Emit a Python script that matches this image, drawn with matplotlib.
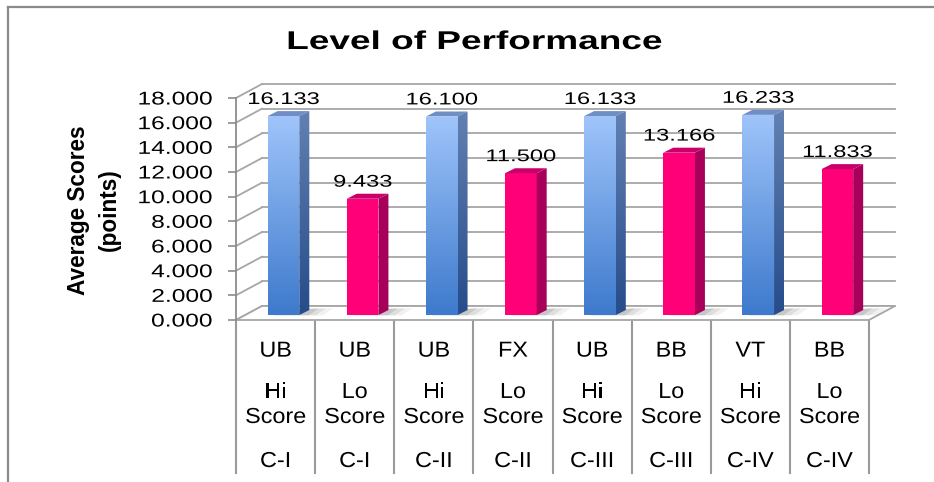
import numpy as np
import matplotlib
matplotlib.use("Agg")
import matplotlib.pyplot as plt
from matplotlib.patches import Polygon
from matplotlib.patheffects import AbstractPathEffect
from matplotlib.transforms import Affine2D
from matplotlib.ticker import FormatStrFormatter
from matplotlib.lines import Line2D
from matplotlib.path import Path

# ---------------- data ----------------
events = ["UB", "UB", "UB", "FX", "UB", "BB", "VT", "BB"]
levels = ["Hi", "Lo", "Hi", "Lo", "Hi", "Lo", "Hi", "Lo"]
groups = ["C-I", "C-I", "C-II", "C-II", "C-III", "C-III", "C-IV", "C-IV"]
scores = [16.133, 9.433, 16.100, 11.500, 16.133, 13.166, 16.233, 11.833]
yticks = [0, 2, 4, 6, 8, 10, 12, 14, 16, 18]
title = "Level of Performance"
ylabel = "Average Scores\n(points)"

W, H = 934, 482
FONT = "Liberation Sans"


class HStretch(AbstractPathEffect):
    """Stretch text glyphs horizontally (the reference text is widened)."""

    def __init__(self, sx, anchor="center"):
        super().__init__((0.0, 0.0))
        self.sx = sx
        self.anchor = anchor

    def draw_path(self, renderer, gc, tpath, affine, rgbFace=None):
        v = tpath.vertices
        if tpath.codes is not None:
            v = v[np.asarray(tpath.codes) != Path.CLOSEPOLY]
        if len(v) == 0:
            renderer.draw_path(gc, tpath, affine, rgbFace)
            return
        d = affine.transform(v)
        if self.anchor == "right":
            x0 = d[:, 0].max()
        elif self.anchor == "left":
            x0 = d[:, 0].min()
        else:
            x0 = 0.5 * (d[:, 0].min() + d[:, 0].max())
        aff = affine + Affine2D().translate(-x0, 0).scale(self.sx, 1.0).translate(x0, 0)
        renderer.draw_path(gc, tpath, aff, rgbFace)


fig = plt.figure(figsize=(W / 100, H / 100), dpi=100)
fig.patch.set_facecolor("white")

# front plane of the 3-D plot
ax = fig.add_axes([236 / W, (H - 320) / H, 633 / W, 222 / H])
ax.set_facecolor("none")
n = len(scores)

# depth offsets (data units)
DX, DY = 26 / 79.125, 14 / 12.333        # back wall
BX, BY = 0.10, 0.40                       # bar front plane
DDX, DDY = 10 / 79.125, 5 / 12.333        # bar depth
BW = 0.40                                 # bar width

grid_col = "#a6a6a6"

# floor
floor = Polygon([(0, 0), (n, 0), (n + DX, DY), (DX, DY)], closed=True,
                facecolor="white", edgecolor=grid_col, lw=1.3, zorder=1.2,
                clip_on=False)
ax.add_patch(floor)

# back-wall gridlines and left-wall diagonals
for t in yticks:
    ax.add_line(Line2D([DX, n + DX], [t + DY, t + DY], color=grid_col, lw=1.3,
                       zorder=1, clip_on=False))
    ax.add_line(Line2D([0, DX], [t, t + DY], color=grid_col, lw=1.3,
                       zorder=1, clip_on=False))


def grad(c_bottom, c_top, steps=64):
    c_bottom = np.array(c_bottom) / 255.0
    c_top = np.array(c_top) / 255.0
    f = np.linspace(0, 1, steps)[:, None]
    arr = c_bottom * (1 - f) + c_top * f
    return arr[:, None, :]


blue_front = ((62, 122, 205), (158, 196, 250))
blue_side = ((38, 76, 138), (98, 128, 178))
blue_top = "#6f8fc4"
pink_front = "#ff0079"
pink_side = "#a8005a"
pink_top = "#c80068"

for i, v in enumerate(scores):
    x0 = i + 0.5 + BX - BW / 2
    x1 = x0 + BW
    y0 = BY
    y1 = v + BY
    # soft shadow on floor
    for k, a in enumerate([0.07, 0.10, 0.14]):
        ext = 0.30 - 0.09 * k
        sh = Polygon([(x0 + 0.08, y0 - 0.02), (x1 + ext, y0 - 0.02),
                      (x1 + DDX + ext, y0 + DDY + 0.15), (x0 + DDX, y0 + DDY)],
                     closed=True, facecolor="#404040", edgecolor="none",
                     alpha=a, zorder=2, clip_on=False)
        ax.add_patch(sh)
    front = Polygon([(x0, y0), (x1, y0), (x1, y1), (x0, y1)], closed=True,
                    zorder=3, clip_on=False)
    side = Polygon([(x1, y0), (x1 + DDX, y0 + DDY), (x1 + DDX, y1 + DDY), (x1, y1)],
                   closed=True, zorder=3, clip_on=False)
    top = Polygon([(x0, y1), (x1, y1), (x1 + DDX, y1 + DDY), (x0 + DDX, y1 + DDY)],
                  closed=True, zorder=3, clip_on=False)
    if levels[i] == "Hi":
        front.set_facecolor("none"); front.set_edgecolor("none")
        side.set_facecolor("none"); side.set_edgecolor("none")
        top.set_facecolor(blue_top); top.set_edgecolor("none")
        ax.add_patch(front); ax.add_patch(side); ax.add_patch(top)
        im = ax.imshow(grad(*blue_front), extent=[x0, x1, y0, y1], origin="lower",
                       aspect="auto", zorder=3, interpolation="bilinear")
        im.set_clip_path(front)
        im2 = ax.imshow(grad(*blue_side), extent=[x1, x1 + DDX, y0, y1 + DDY],
                        origin="lower", aspect="auto", zorder=3,
                        interpolation="bilinear")
        im2.set_clip_path(side)
    else:
        front.set_facecolor(pink_front); front.set_edgecolor("none")
        side.set_facecolor(pink_side); side.set_edgecolor("none")
        top.set_facecolor(pink_top); top.set_edgecolor("none")
        ax.add_patch(front); ax.add_patch(side); ax.add_patch(top)
    # data label
    ax.text(i + 0.5 + BX, y1 + 0.98, f"{v:.3f}", ha="center", va="baseline",
            fontsize=12.2, family=FONT, color="black", zorder=5,
            path_effects=[HStretch(1.40)])

# category table below the floor
for k in range(n + 1):
    ax.add_line(Line2D([k, k], [0, -12.4], color="#9a9a9a", lw=1.5,
                       clip_on=False, zorder=1))
tkw = dict(ha="center", va="baseline", fontsize=15.6, family=FONT,
           path_effects=[HStretch(1.08)])
for i in range(n):
    xc = i + 0.5
    ax.text(xc, -2.97, events[i], **tkw)
    ax.text(xc, -6.32, levels[i], **tkw)
    ax.text(xc, -8.35, "Score", **tkw)
    ax.text(xc, -11.92, groups[i], **tkw)

# axes styling
ax.set_xlim(0, n)
ax.set_ylim(0, 18)
ax.set_xticks([])
ax.set_yticks(yticks)
ax.yaxis.set_major_formatter(FormatStrFormatter("%.3f"))
for s in ["top", "right", "bottom"]:
    ax.spines[s].set_visible(False)
ax.spines["left"].set_color("#8c8c8c")
ax.spines["left"].set_linewidth(1.3)
ax.tick_params(axis="y", direction="out", length=5.8, width=1.2, color="#8c8c8c",
               pad=11.0, labelsize=13.3)
for lab in ax.get_yticklabels():
    lab.set_family(FONT)
    lab.set_path_effects([HStretch(1.33, anchor="right")])

# title and y label
fig.text(475 / W, 1 - 49 / H, title, ha="center", va="baseline", fontsize=18.5,
         fontweight="bold", family=FONT, path_effects=[HStretch(1.44)])
fig.text(94 / W, 1 - 210 / H, ylabel, ha="center", va="center", rotation=90,
         fontsize=16.3, fontweight="bold", family=FONT, linespacing=1.45,
         multialignment="center")

# outer chart frame
fig.add_artist(Line2D([8 / W, 8 / W], [0, 1 - 7 / H], transform=fig.transFigure,
                      color="#8a8a8a", lw=1.6))
fig.add_artist(Line2D([8 / W, 1], [1 - 7 / H, 1 - 7 / H], transform=fig.transFigure,
                      color="#8a8a8a", lw=1.6))

fig.savefig("out.png", dpi=100)
